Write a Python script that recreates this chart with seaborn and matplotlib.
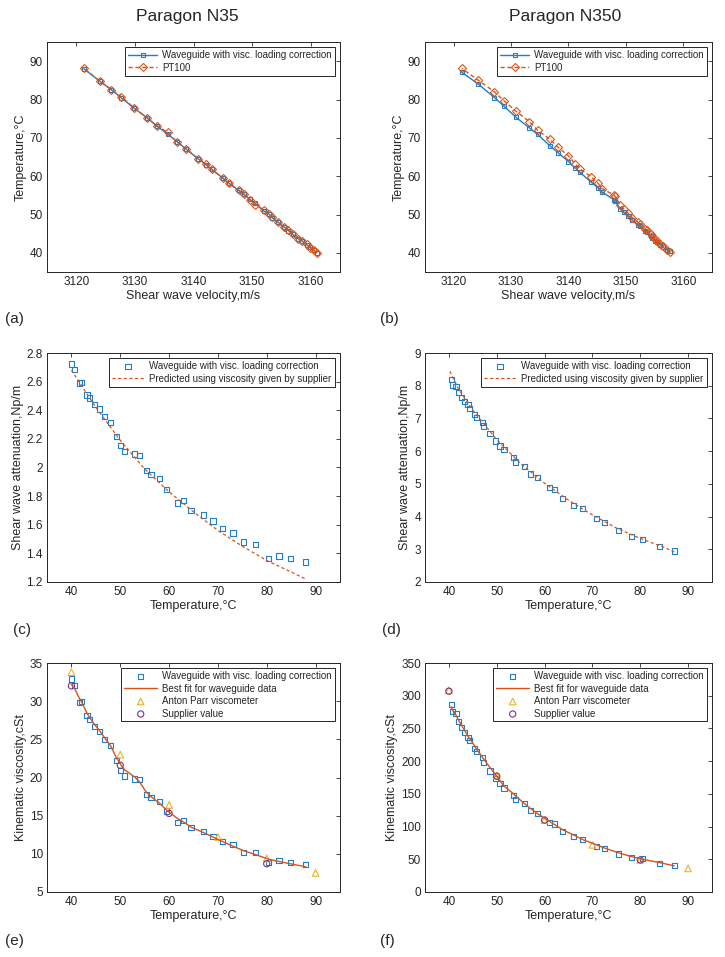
import numpy as np
import pandas as pd
import matplotlib
matplotlib.use("Agg")
import matplotlib.pyplot as plt
import seaborn as sns

# Paragon N35 -----------------------------------------------------------
n35_temp_wg = [40.0, 40.7, 41.6, 42.1, 43.2, 43.7, 44.8, 45.8, 46.8, 48.0, 49.2, 50.1, 50.9, 52.9, 54.0, 55.3,
               56.3, 58.1, 59.5, 61.8, 62.9, 64.5, 67.0, 69.0, 71.0, 73.1, 75.3, 77.7, 80.4, 82.5, 84.8, 88.0]
n35_temp_pt = [40.0, 40.7, 41.3, 42.2, 43.1, 43.7, 44.9, 45.9, 46.7, 48.0, 49.3, 50.2, 51.2, 52.6, 53.8, 55.3,
               56.4, 58.1, 59.5, 61.8, 63.2, 64.6, 67.0, 68.8, 71.4, 73.2, 75.3, 77.8, 80.7, 82.6, 84.8, 88.1]
n35_vel = [3161.0, 3160.5, 3159.9, 3159.3, 3158.5, 3157.9, 3156.9, 3156.2, 3155.4, 3154.4, 3153.4, 3152.9,
           3152.0, 3150.5, 3149.6, 3148.6, 3147.7, 3146.1, 3145.0, 3143.1, 3142.2, 3140.8, 3138.8, 3137.2,
           3135.6, 3133.7, 3132.0, 3129.9, 3127.7, 3126.0, 3124.0, 3121.3]
n35_att = [2.723, 2.684, 2.590, 2.595, 2.507, 2.486, 2.441, 2.409, 2.355, 2.316, 2.218, 2.155, 2.113, 2.094,
           2.083, 1.980, 1.952, 1.922, 1.845, 1.752, 1.768, 1.701, 1.668, 1.626, 1.573, 1.542, 1.479, 1.463,
           1.363, 1.382, 1.365, 1.340]
n35_pred_t = [40, 45, 50, 55, 60, 65, 70, 75, 80, 85, 88]
n35_pred_att = [2.68, 2.42, 2.19, 1.99, 1.83, 1.69, 1.56, 1.45, 1.35, 1.27, 1.22]
n35_visc = [32.9, 32.0, 29.8, 30.0, 28.1, 27.6, 26.7, 26.0, 25.0, 24.2, 22.2, 20.9, 20.2, 19.8, 19.7, 17.8,
            17.4, 16.9, 15.6, 14.1, 14.4, 13.4, 12.9, 12.3, 11.6, 11.2, 10.2, 10.2, 8.9, 9.1, 8.9, 8.6]
n35_fit = [32.2, 31.6, 30.4, 29.9, 28.4, 27.9, 26.9, 26.1, 25.2, 24.2, 22.6, 21.7, 21.0, 20.1, 19.4, 18.1,
           17.5, 16.6, 15.7, 14.6, 14.2, 13.5, 12.8, 12.2, 11.6, 11.0, 10.4, 9.9, 9.3, 9.0, 8.7, 8.3]
n35_ap_t = [40, 50, 60, 70, 80, 90]
n35_ap = [33.8, 23.0, 16.4, 12.2, 9.4, 7.5]
n35_sup_t = [40, 50, 60, 80]
n35_sup = [32.0, 21.6, 15.3, 8.7]

# Paragon N350 ----------------------------------------------------------
n350_temp_wg = [40.5, 40.7, 41.5, 42.0, 42.7, 43.2, 44.0, 44.3, 45.4, 45.8, 47.0, 47.3, 48.6, 49.7, 50.7, 51.5,
                53.5, 53.9, 55.8, 57.0, 58.5, 61.0, 62.1, 63.8, 66.1, 68.0, 70.9, 72.6, 75.4, 78.2, 80.5, 84.0, 87.1]
n350_temp_pt = [40.2, 40.8, 41.7, 42.4, 43.1, 43.6, 44.5, 44.9, 45.9, 46.3, 47.6, 48.0, 49.2, 50.3, 51.5, 52.6,
                54.7, 55.1, 56.7, 58.2, 59.9, 61.9, 63.1, 65.3, 67.5, 69.7, 72.0, 74.2, 77.0, 79.6, 82.0, 85.0, 88.1]
n350_vel = [3157.6, 3157.2, 3156.4, 3156.0, 3155.5, 3155.1, 3154.5, 3154.3, 3153.6, 3153.3, 3152.4, 3152.1,
            3151.1, 3150.4, 3149.6, 3149.0, 3148.1, 3147.9, 3145.9, 3145.1, 3143.9, 3142.0, 3141.2, 3140.0,
            3138.2, 3136.7, 3134.6, 3133.2, 3130.8, 3128.8, 3127.1, 3124.3, 3121.4]
n350_att = [8.18, 8.02, 7.98, 7.79, 7.65, 7.51, 7.42, 7.31, 7.11, 7.04, 6.87, 6.77, 6.53, 6.31, 6.16, 6.05,
            5.81, 5.67, 5.54, 5.30, 5.19, 4.88, 4.83, 4.56, 4.35, 4.24, 3.95, 3.81, 3.58, 3.40, 3.31, 3.08, 2.95]
n350_pred_t = [40.2, 42, 45, 50, 55, 60, 65, 70, 75, 80, 85, 87.1]
n350_pred_att = [8.44, 7.9, 7.25, 6.35, 5.62, 5.02, 4.5, 4.05, 3.65, 3.33, 3.06, 2.92]
n350_visc = [286, 276, 273, 261, 252, 244, 236, 231, 219, 215, 205, 198, 185, 174, 166, 159, 148, 141, 135,
             124, 120, 106, 104, 92, 85, 80, 70, 66, 58, 53, 51, 44, 40]
n350_fit = [283, 279, 270, 263, 254, 248, 238, 235, 223, 218, 206, 203, 190, 180, 170, 162, 150, 147, 135,
            128, 120, 108, 103, 95, 87, 80, 72, 67, 60, 54, 50, 45, 40]
n350_ap_t = [40, 50, 60, 70, 80, 90]
n350_ap = [308, 178, 110, 72, 49, 36]
n350_sup_t = [40, 50, 60, 80]
n350_sup = [307, 177, 110, 49]

BLUE = "#1f7fc8"
ORANGE = "#D95319"
YELLOW = "#EDB120"
PURPLE = "#7E2F8E"
DARK = "#262626"

sns.set_style("white")
plt.rcParams["font.family"] = ["Liberation Sans", "DejaVu Sans"]
plt.rcParams.update({
    "axes.edgecolor": DARK, "axes.linewidth": 0.7, "axes.labelcolor": DARK,
    "xtick.color": DARK, "ytick.color": DARK, "text.color": DARK,
    "xtick.direction": "in", "ytick.direction": "in",
    "xtick.major.size": 3, "ytick.major.size": 3,
    "xtick.major.width": 0.6, "ytick.major.width": 0.6,
    "xtick.labelsize": 8.5, "ytick.labelsize": 8.5, "axes.labelsize": 9,
})

W, H = 725, 957
fig = plt.figure(figsize=(W / 100, H / 100), dpi=100)


def add_ax(x0, y0, x1, y1):
    return fig.add_axes([x0 / W, 1 - y1 / H, (x1 - x0) / W, (y1 - y0) / H])


def style(ax, xlim, ylim, xticks, yticks, xlabel, ylabel, yfmt=None):
    ax.set_xlim(xlim)
    ax.set_ylim(ylim)
    ax.set_xticks(xticks)
    ax.set_yticks(yticks)
    if yfmt:
        ax.set_yticklabels([yfmt(v) for v in yticks])
    ax.tick_params(top=True, right=True, pad=3)
    ax.set_xlabel(xlabel, labelpad=1)
    ax.set_ylabel(ylabel, labelpad=2)


def legend(ax, hl=3.0):
    leg = ax.legend(loc="upper right", fontsize=7, frameon=True, fancybox=False,
                    edgecolor=DARK, framealpha=1, borderaxespad=0.55, handlelength=hl,
                    handletextpad=0.5, borderpad=0.3, labelspacing=0.25)
    leg.get_frame().set_linewidth(0.7)


def temp_vs_vel(ax, vel, t_wg, t_pt):
    sns.lineplot(x=vel, y=t_wg, ax=ax, sort=False, estimator=None, color=BLUE, lw=1.0,
                 marker="s", ms=3.2, mfc="none", mec=BLUE, mew=0.8,
                 label="Waveguide with visc. loading correction")
    sns.lineplot(x=vel, y=t_pt, ax=ax, sort=False, estimator=None, color=ORANGE, lw=1.0,
                 ls=(0, (3, 2)), marker="D", ms=3.8, mfc="none", mec=ORANGE, mew=0.8, label="PT100")
    style(ax, (3115, 3165), (35, 95), range(3120, 3161, 10), range(40, 91, 10),
          "Shear wave velocity,m/s", "Temperature,\u00b0C")
    legend(ax)


def att_vs_temp(ax, t, att, pt, patt, ylim, yticks, yfmt=None):
    sns.scatterplot(x=t, y=att, ax=ax, marker="s", s=14, facecolor="none", edgecolor=BLUE,
                    linewidth=0.8, label="Waveguide with visc. loading correction")
    sns.lineplot(x=pt, y=patt, ax=ax, sort=False, estimator=None, color=ORANGE, lw=0.9,
                 ls=(0, (2.5, 2)), label="Predicted using viscosity given by supplier")
    style(ax, (35, 95), ylim, range(40, 91, 10), yticks,
          "Temperature,\u00b0C", "Shear wave attenuation,Np/m", yfmt)
    legend(ax, hl=3.4)


def visc_vs_temp(ax, t, visc, fit, apt, ap, supt, sup, ylim, yticks):
    sns.scatterplot(x=t, y=visc, ax=ax, marker="s", s=14, facecolor="none", edgecolor=BLUE,
                    linewidth=0.8, label="Waveguide with visc. loading correction")
    sns.lineplot(x=t, y=fit, ax=ax, sort=False, estimator=None, color=ORANGE, lw=1.0,
                 label="Best fit for waveguide data")
    sns.scatterplot(x=apt, y=ap, ax=ax, marker="^", s=22, facecolor="none", edgecolor=YELLOW,
                    linewidth=0.8, label="Anton Parr viscometer")
    sns.scatterplot(x=supt, y=sup, ax=ax, marker="o", s=20, facecolor="none", edgecolor=PURPLE,
                    linewidth=0.8, label="Supplier value")
    style(ax, (35, 95), ylim, range(40, 91, 10), yticks,
          "Temperature,\u00b0C", "Kinematic viscosity,cSt")
    legend(ax, hl=3.4)


ax_a = add_ax(47, 42, 340, 272)
temp_vs_vel(ax_a, n35_vel, n35_temp_wg, n35_temp_pt)
ax_b = add_ax(425, 42, 712, 272)
temp_vs_vel(ax_b, n350_vel, n350_temp_wg, n350_temp_pt)

fmt_c = lambda v: "2" if abs(v - 2) < 1e-9 else f"{v:.1f}"
ax_c = add_ax(47, 353, 340, 582)
att_vs_temp(ax_c, n35_temp_wg, n35_att, n35_pred_t, n35_pred_att, (1.2, 2.8),
            list(np.round(np.arange(1.2, 2.81, 0.2), 1)), fmt_c)
ax_d = add_ax(425, 353, 712, 582)
att_vs_temp(ax_d, n350_temp_wg, n350_att, n350_pred_t, n350_pred_att, (2, 9), range(2, 10))

ax_e = add_ax(47, 663, 340, 892)
visc_vs_temp(ax_e, n35_temp_wg, n35_visc, n35_fit, n35_ap_t, n35_ap, n35_sup_t, n35_sup,
             (5, 35), range(5, 36, 5))
ax_f = add_ax(425, 663, 712, 892)
visc_vs_temp(ax_f, n350_temp_wg, n350_visc, n350_fit, n350_ap_t, n350_ap, n350_sup_t, n350_sup,
             (0, 350), range(0, 351, 50))

fig.text(187 / W, 1 - 16 / H, "Paragon N35", ha="center", va="center", fontsize=12.5)
fig.text(565 / W, 1 - 16 / H, "Paragon N350", ha="center", va="center", fontsize=12.5)

for lab, x, y in [("(a)", 5, 319), ("(b)", 380, 319), ("(c)", 13, 630), ("(d)", 382, 630),
                  ("(e)", 5, 941), ("(f)", 380, 941)]:
    fig.text(x / W, 1 - y / H, lab, ha="left", va="center", fontsize=11)

fig.savefig("out.png", dpi=100, facecolor="white")
